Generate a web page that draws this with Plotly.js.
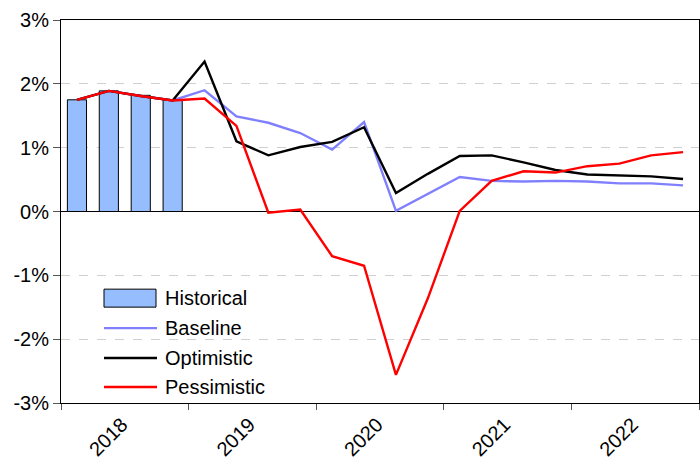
<!DOCTYPE html>
<html>
<head>
<meta charset="utf-8">
<script src="https://cdn.plot.ly/plotly-3.0.1.min.js"></script>
<style>html,body{margin:0;padding:0;background:#fff;}#chart{width:700px;height:460px;}</style>
</head>
<body>
<div id="chart"></div>
<script>
// Quarterly data, 2018Q1 .. 2022Q4
const years = ["2018", "2019", "2020", "2021", "2022"];
const quarterIndex = [0,1,2,3,4,5,6,7,8,9,10,11,12,13,14,15,16,17,18,19];
const historical = [1.75, 1.89, 1.82, 1.75];
const baseline = [1.75, 1.89, 1.81, 1.74, 1.90, 1.49, 1.39, 1.23, 0.97, 1.40, 0.01, 0.27, 0.54, 0.48, 0.47, 0.48, 0.47, 0.44, 0.44, 0.41];
const optimistic = [1.75, 1.89, 1.81, 1.74, 2.35, 1.10, 0.88, 1.01, 1.09, 1.32, 0.29, 0.59, 0.87, 0.88, 0.77, 0.65, 0.58, 0.56, 0.55, 0.51];
const pessimistic = [1.75, 1.89, 1.81, 1.74, 1.77, 1.34, -0.02, 0.03, -0.70, -0.85, -2.56, -1.36, 0.01, 0.48, 0.63, 0.61, 0.71, 0.75, 0.88, 0.93];
const yTickVals = [-3, -2, -1, 0, 1, 2, 3];
const yTickText = ["-3%", "-2%", "-1%", "0%", "1%", "2%", "3%"];
const seriesNames = ["Historical", "Baseline", "Optimistic", "Pessimistic"];
const seriesColors = ["#96bdfd", "#8080ff", "#000000", "#ff0000"];

const xMid = quarterIndex.map(i => i + 0.5);
const FONT = "Liberation Sans, Arial, sans-serif";

const traces = [
  {type: "bar", x: xMid.slice(0, historical.length), y: historical, width: 0.6,
   marker: {color: seriesColors[0], line: {color: "#000000", width: 1}}, name: seriesNames[0], showlegend: false},
  {type: "scatter", mode: "lines", x: xMid, y: baseline, line: {color: seriesColors[1], width: 2.4}, name: seriesNames[1], showlegend: false},
  {type: "scatter", mode: "lines", x: xMid, y: optimistic, line: {color: seriesColors[2], width: 2.4}, name: seriesNames[2], showlegend: false},
  {type: "scatter", mode: "lines", x: xMid, y: pessimistic, line: {color: seriesColors[3], width: 2.4}, name: seriesNames[3], showlegend: false}
];

// Custom legend (paper coordinates)
const L = 61, R = 699, T = 19.5, B = 403;
const px = v => (v - L) / (R - L);
const py = v => (B - v) / (B - T);
const legendRows = [298, 328, 358, 387];
const shapes = [];
const annotations = [];
shapes.push({type: "rect", xref: "paper", yref: "paper", x0: px(104), x1: px(156), y0: py(307), y1: py(289),
  fillcolor: seriesColors[0], line: {color: "#000000", width: 1}});
for (let k = 1; k < 4; k++) {
  shapes.push({type: "line", xref: "paper", yref: "paper", x0: px(104), x1: px(157), y0: py(legendRows[k]), y1: py(legendRows[k]),
    line: {color: seriesColors[k], width: 2.4}});
}
for (let k = 0; k < 4; k++) {
  annotations.push({xref: "paper", yref: "paper", x: px(163), y: py(legendRows[k]), xanchor: "left", yanchor: "middle",
    text: seriesNames[k], showarrow: false, font: {family: FONT, size: 20, color: "#000"}});
}

const layout = {
  width: 700, height: 460,
  margin: {l: 61, r: 1, t: 19.5, b: 57},
  paper_bgcolor: "#fff", plot_bgcolor: "#fff",
  showlegend: false,
  font: {family: FONT, size: 20, color: "#000"},
  xaxis: {
    range: [0, 20], tickmode: "array", tickvals: years.map((y, i) => i * 4 + 2), ticktext: years,
    ticks: "", tickangle: -45, showgrid: false, zeroline: false, ticklabelshift: -3, ticklabelstandoff: 1,
    showline: true, linecolor: "#000", linewidth: 1, mirror: true,
    minor: {tickmode: "array", tickvals: [0, 4, 8, 12, 16, 20], ticks: "outside", ticklen: 6, tickcolor: "#555", tickwidth: 1, showgrid: false},
    tickfont: {family: FONT, size: 20, color: "#000"}
  },
  yaxis: {
    range: [-3, 3], tickmode: "array", tickvals: yTickVals, ticktext: yTickText, ticks: "outside", ticklen: 7, tickcolor: "#555",
    showgrid: true, gridcolor: "#d0d0d0", griddash: "dash", gridwidth: 1,
    zeroline: true, zerolinecolor: "#000", zerolinewidth: 1,
    showline: true, linecolor: "#000", linewidth: 1, mirror: true,
    tickfont: {family: FONT, size: 20, color: "#000"}
  },
  shapes: shapes,
  annotations: annotations,
  bargap: 0
};

Plotly.newPlot("chart", traces, layout, {displayModeBar: false, staticPlot: true});
</script>
</body>
</html>
